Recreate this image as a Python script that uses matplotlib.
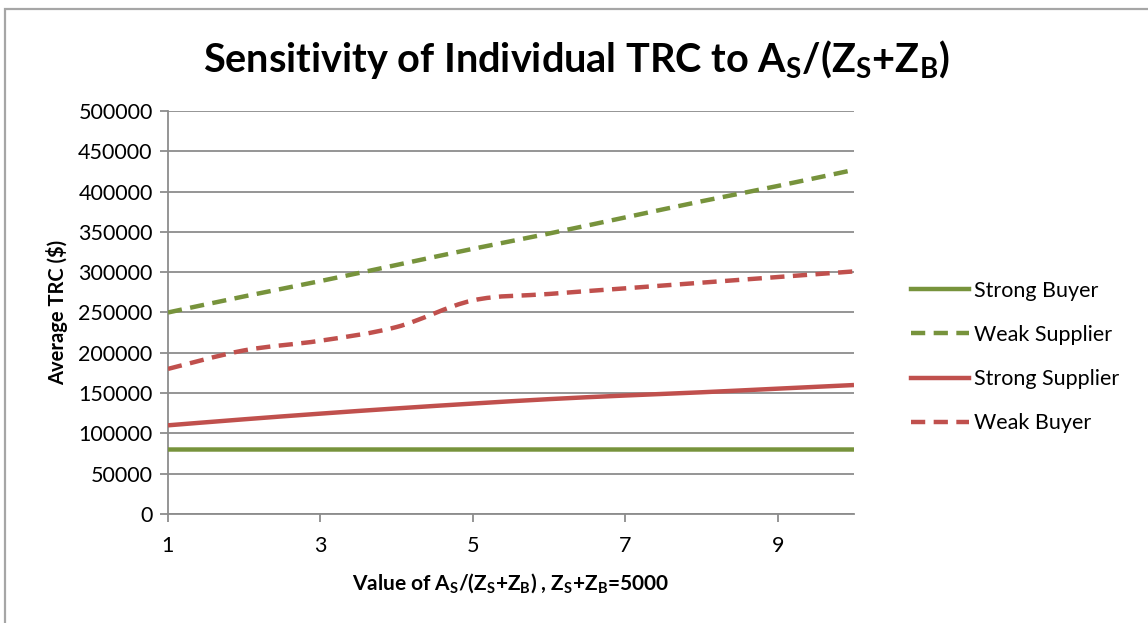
import numpy as np
import matplotlib.pyplot as plt
from matplotlib.path import Path
from matplotlib.patches import PathPatch, Rectangle
from matplotlib.lines import Line2D

plt.rcParams['font.family'] = ['Lato', 'DejaVu Sans']
plt.rcParams['mathtext.default'] = 'regular'

# value of A_S/(Z_S+Z_B)
ratio = [1, 2, 3, 4, 5, 6, 7, 8, 9, 10]

# average TRC ($) per party
strong_buyer = [80000, 80000, 80000, 80000, 80000, 80000, 80000, 80000, 80000, 80000]
weak_supplier = [250000, 270000, 289000, 309000, 329000, 348000, 368000, 388000, 407000, 427000]
strong_supplier = [110000, 117500, 124500, 131000, 137000, 142500, 147000, 151000, 155500, 160000]
weak_buyer = [180000, 203000, 215000, 232000, 265000, 273000, 280000, 287000, 294000, 301000]

GREEN = '#77933C'
RED = '#C0504D'
GRID = '#8C8C8C'
LW = 3.2
DASH = (0, (3.2, 1.9))


def smooth_path(x, y):
    # spreadsheet-style smoothed line: cubic bezier through every point
    x = np.asarray(x, float)
    y = np.asarray(y, float)
    n = len(x)
    verts = [(x[0], y[0])]
    codes = [Path.MOVETO]
    for i in range(n - 1):
        i0 = max(i - 1, 0)
        i2 = min(i + 2, n - 1)
        c1 = (x[i] + (x[i + 1] - x[i0]) / 6, y[i] + (y[i + 1] - y[i0]) / 6)
        c2 = (x[i + 1] - (x[i2] - x[i]) / 6, y[i + 1] - (y[i2] - y[i]) / 6)
        verts += [c1, c2, (x[i + 1], y[i + 1])]
        codes += [Path.CURVE4] * 3
    return Path(verts, codes)


fig = plt.figure(figsize=(11.48, 6.23), dpi=100)
ax = fig.add_axes([0.1463, 0.175, 0.5976, 0.6468])

series = [
    ('Strong Buyer', strong_buyer, GREEN, '-'),
    ('Weak Supplier', weak_supplier, GREEN, DASH),
    ('Strong Supplier', strong_supplier, RED, '-'),
    ('Weak Buyer', weak_buyer, RED, DASH),
]

handles = []
for name, vals, color, ls in series:
    patch = PathPatch(smooth_path(ratio, vals), fill=False, edgecolor=color,
                      linewidth=LW, linestyle=ls, zorder=3)
    ax.add_patch(patch)
    handles.append(Line2D([], [], color=color, linewidth=LW, linestyle=ls,
                          label=name))

ax.set_xlim(1, 10)
ax.set_ylim(0, 500000)
ax.set_xticks([1, 3, 5, 7, 9])
ax.set_yticks(np.arange(0, 500001, 50000))
ax.yaxis.grid(True, color=GRID, linewidth=1.3)
ax.set_axisbelow(True)

for side in ['top', 'right']:
    ax.spines[side].set_visible(False)
for side in ['left', 'bottom']:
    ax.spines[side].set_color(GRID)
    ax.spines[side].set_linewidth(1.3)

ax.tick_params(axis='y', direction='out', length=6, width=1.3, color=GRID,
               labelsize=15.5, pad=5)
ax.tick_params(axis='x', direction='out', length=6, width=1.3, color=GRID,
               labelsize=15.5, pad=10)

ax.set_xlabel('Value of A$_S$/(Z$_S$+Z$_B$) , Z$_S$+Z$_B$=5000',
              fontsize=15, fontweight='bold', labelpad=11)
ax.set_ylabel('Average TRC ($)', fontsize=14.5, fontweight='bold', labelpad=7)

fig.text(0.502, 0.905, 'Sensitivity of Individual TRC to A$_S$/(Z$_S$+Z$_B$)',
         ha='center', va='center', fontsize=28.5, fontweight='bold')

fig.legend(handles=handles, loc='center left',
           bbox_to_anchor=(0.777, 1 - 357 / 623), frameon=False, fontsize=15.5,
           handlelength=2.7, handletextpad=0.2, labelspacing=1.12)

# chart frame
fig.patches.append(Rectangle((5 / 1148, -0.1), 1.2, 1 - 9 / 623 + 0.1,
                             transform=fig.transFigure, fill=False,
                             edgecolor='#A6A6A6', linewidth=1.6))

fig.savefig('out.png', dpi=100)
